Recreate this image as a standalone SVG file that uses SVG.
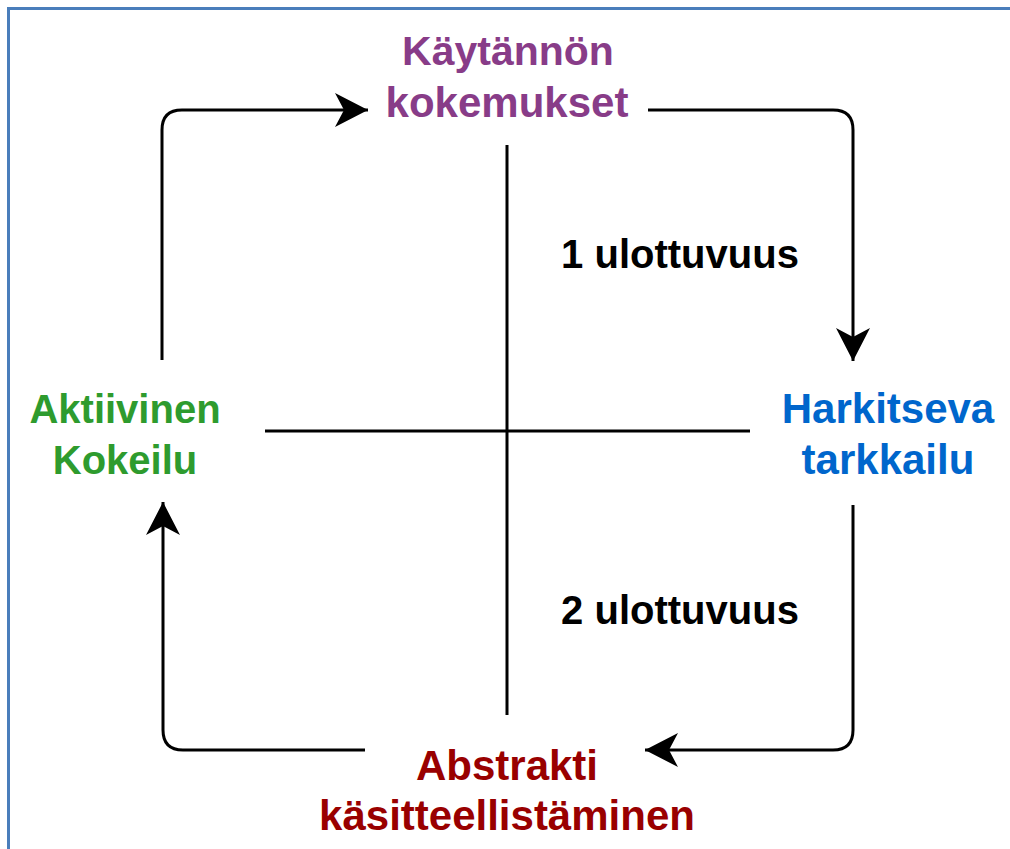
<svg xmlns="http://www.w3.org/2000/svg" width="1010" height="849" viewBox="0 0 1010 849">
<style>
text{font-family:"Liberation Sans",Arial,sans-serif;font-weight:bold;font-size:42px;text-anchor:middle}
.c{fill:none;stroke:#000;stroke-width:3}
.ax{fill:none;stroke:#000;stroke-width:3}
</style>
<defs>
<marker id="ah" viewBox="0 0 34 34" refX="33" refY="17" markerWidth="34" markerHeight="34" markerUnits="userSpaceOnUse" orient="auto">
<path d="M0,0 L33,17 L0,34 L9,17 Z" fill="#000"/>
</marker>
</defs>
<rect x="0" y="0" width="1010" height="849" fill="#fff"/>
<path d="M8.5,849 V8.5 H1010" fill="none" stroke="#4a7ebb" stroke-width="3"/>
<g id="axes">
<line class="ax" x1="507" y1="145" x2="507" y2="715"/>
<line class="ax" x1="265" y1="431" x2="750" y2="431"/>
</g>
<g id="connectors">
<path class="c" d="M162,360 V130 Q162,110 182,110 H368" marker-end="url(#ah)"/>
<path class="c" d="M648,110 H833 Q853,110 853,130 V361" marker-end="url(#ah)"/>
<path class="c" d="M853,505 V730 Q853,750 833,750 H645" marker-end="url(#ah)"/>
<path class="c" d="M365,750 H183 Q163,750 163,730 V502" marker-end="url(#ah)"/>
</g>
<g id="kaytannon">
<text x="508" y="65" fill="#883c88" style="font-size:41px">Käytännön</text>
<text x="507" y="117" fill="#883c88">kokemukset</text>
</g>
<g id="harkitseva">
<text x="888" y="423" fill="#0066cc">Harkitseva</text>
<text x="888" y="474" fill="#0066cc">tarkkailu</text>
</g>
<g id="abstrakti">
<text x="507" y="780" fill="#990000">Abstrakti</text>
<text x="507" y="830" fill="#990000">käsitteellistäminen</text>
</g>
<g id="aktiivinen">
<text x="125" y="423" fill="#2e9b2e" style="font-size:40px">Aktiivinen</text>
<text x="125" y="474" fill="#2e9b2e" style="font-size:40px">Kokeilu</text>
</g>
<g id="dim1">
<text x="680" y="268" fill="#000" style="font-size:40px">1 ulottuvuus</text>
</g>
<g id="dim2">
<text x="680" y="624" fill="#000" style="font-size:40px">2 ulottuvuus</text>
</g>
</svg>
